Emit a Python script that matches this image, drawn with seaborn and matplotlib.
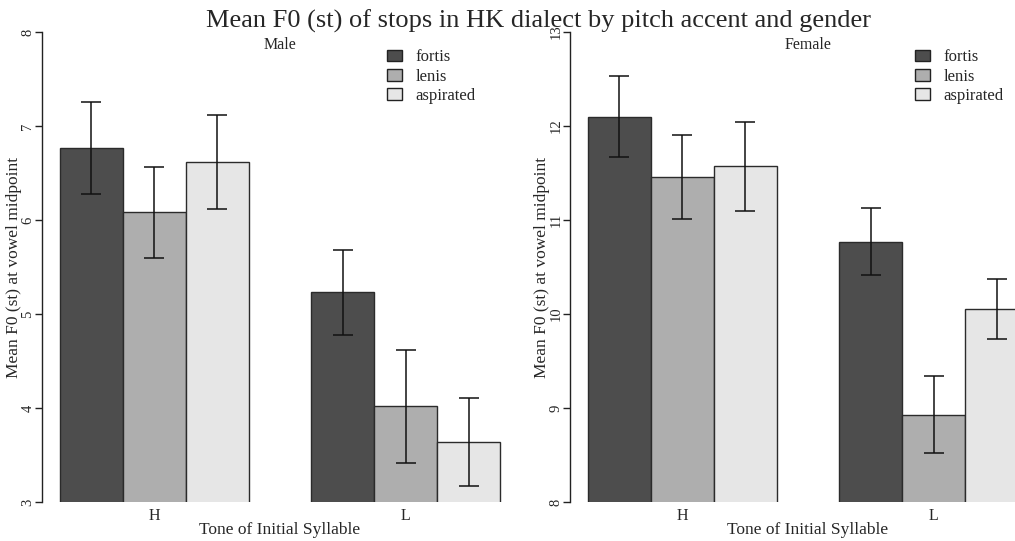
import numpy as np
import pandas as pd
import matplotlib
matplotlib.use("Agg")
import matplotlib.pyplot as plt
import seaborn as sns

tones = ["H", "L"]
stops = ["fortis", "lenis", "aspirated"]

male_mean = {"fortis": [6.77, 5.23], "lenis": [6.08, 4.02], "aspirated": [6.62, 3.64]}
male_err = {"fortis": [0.49, 0.45], "lenis": [0.48, 0.60], "aspirated": [0.50, 0.47]}
female_mean = {"fortis": [12.10, 10.77], "lenis": [11.46, 8.93], "aspirated": [11.57, 10.05]}
female_err = {"fortis": [0.43, 0.36], "lenis": [0.445, 0.41], "aspirated": [0.47, 0.32]}

colors = ["#4d4d4d", "#aeaeae", "#e6e6e6"]

sns.set_style("white")
plt.rcParams["font.family"] = ["Liberation Serif", "DejaVu Serif"]

W, H = 1015, 541
fig = plt.figure(figsize=(W / 100, H / 100), dpi=100)


def make_df(means, errs):
    rows = []
    for s in stops:
        for i, t in enumerate(tones):
            rows.append({"tone": t, "stop": s, "mean": means[s][i], "err": errs[s][i]})
    return pd.DataFrame(rows)


def panel(x0, means, errs, ylim, subtitle):
    ax = fig.add_axes([x0 / W, (H - 502) / H, 476 / W, 470 / H])
    df = make_df(means, errs)
    sns.barplot(data=df, x="tone", y="mean", hue="stop", order=tones, hue_order=stops,
                palette=colors, width=0.75, errorbar=None, edgecolor="#2b2b2b",
                linewidth=1.0, ax=ax, saturation=1)
    # error bars at bar centres
    for container, s in zip(ax.containers, stops):
        xs = [p.get_x() + p.get_width() / 2 for p in container.patches]
        ax.errorbar(xs, means[s], yerr=errs[s], fmt="none", ecolor="#111111",
                    elinewidth=1.1, capsize=7.5, capthick=1.1, zorder=5)
    ax.set_xlim(-0.445, 1.445)
    ax.set_ylim(*ylim)
    for sp in ["top", "right", "bottom"]:
        ax.spines[sp].set_visible(False)
    ax.spines["left"].set_bounds(*ylim)
    ax.spines["left"].set_color("#222222")
    ax.spines["left"].set_linewidth(1.0)
    ax.set_yticks(np.arange(ylim[0], ylim[1] + 1, 1))
    ax.tick_params(axis="y", direction="out", length=5, width=1.0, color="#222222",
                   labelsize=10.5, pad=0.5, labelrotation=90, left=True)
    for lab in ax.get_yticklabels():
        lab.set_va("center")
    ax.tick_params(axis="x", length=0, labelsize=11.5, pad=4)
    ax.set_xlabel("Tone of Initial Syllable", fontsize=12.5, labelpad=-1)
    ax.set_ylabel("Mean F0 (st) at vowel midpoint", fontsize=12.5)
    ax.yaxis.set_label_coords(-0.043, 0.5)
    ax.text(0.5, 1 - 13 / 470, subtitle, transform=ax.transAxes, ha="center",
            va="center", fontsize=11.5)
    leg = ax.legend(loc="upper left", bbox_to_anchor=(0.71, 0.977), frameon=False,
                    fontsize=12, handlelength=0.95, handleheight=0.7, handletextpad=0.8,
                    labelspacing=0.2, borderaxespad=0)
    for h in leg.legend_handles:
        h.set_edgecolor("#222222")
    ax.set_facecolor("none")
    return ax


panel(42, male_mean, male_err, (3, 8), "Male")
panel(570, female_mean, female_err, (8, 13), "Female")

fig.text(538 / W, 1 - 28 / H, "Mean F0 (st) of stops in HK dialect by pitch accent and gender",
         ha="center", va="baseline", fontsize=19)

fig.savefig("out.png", dpi=100)
